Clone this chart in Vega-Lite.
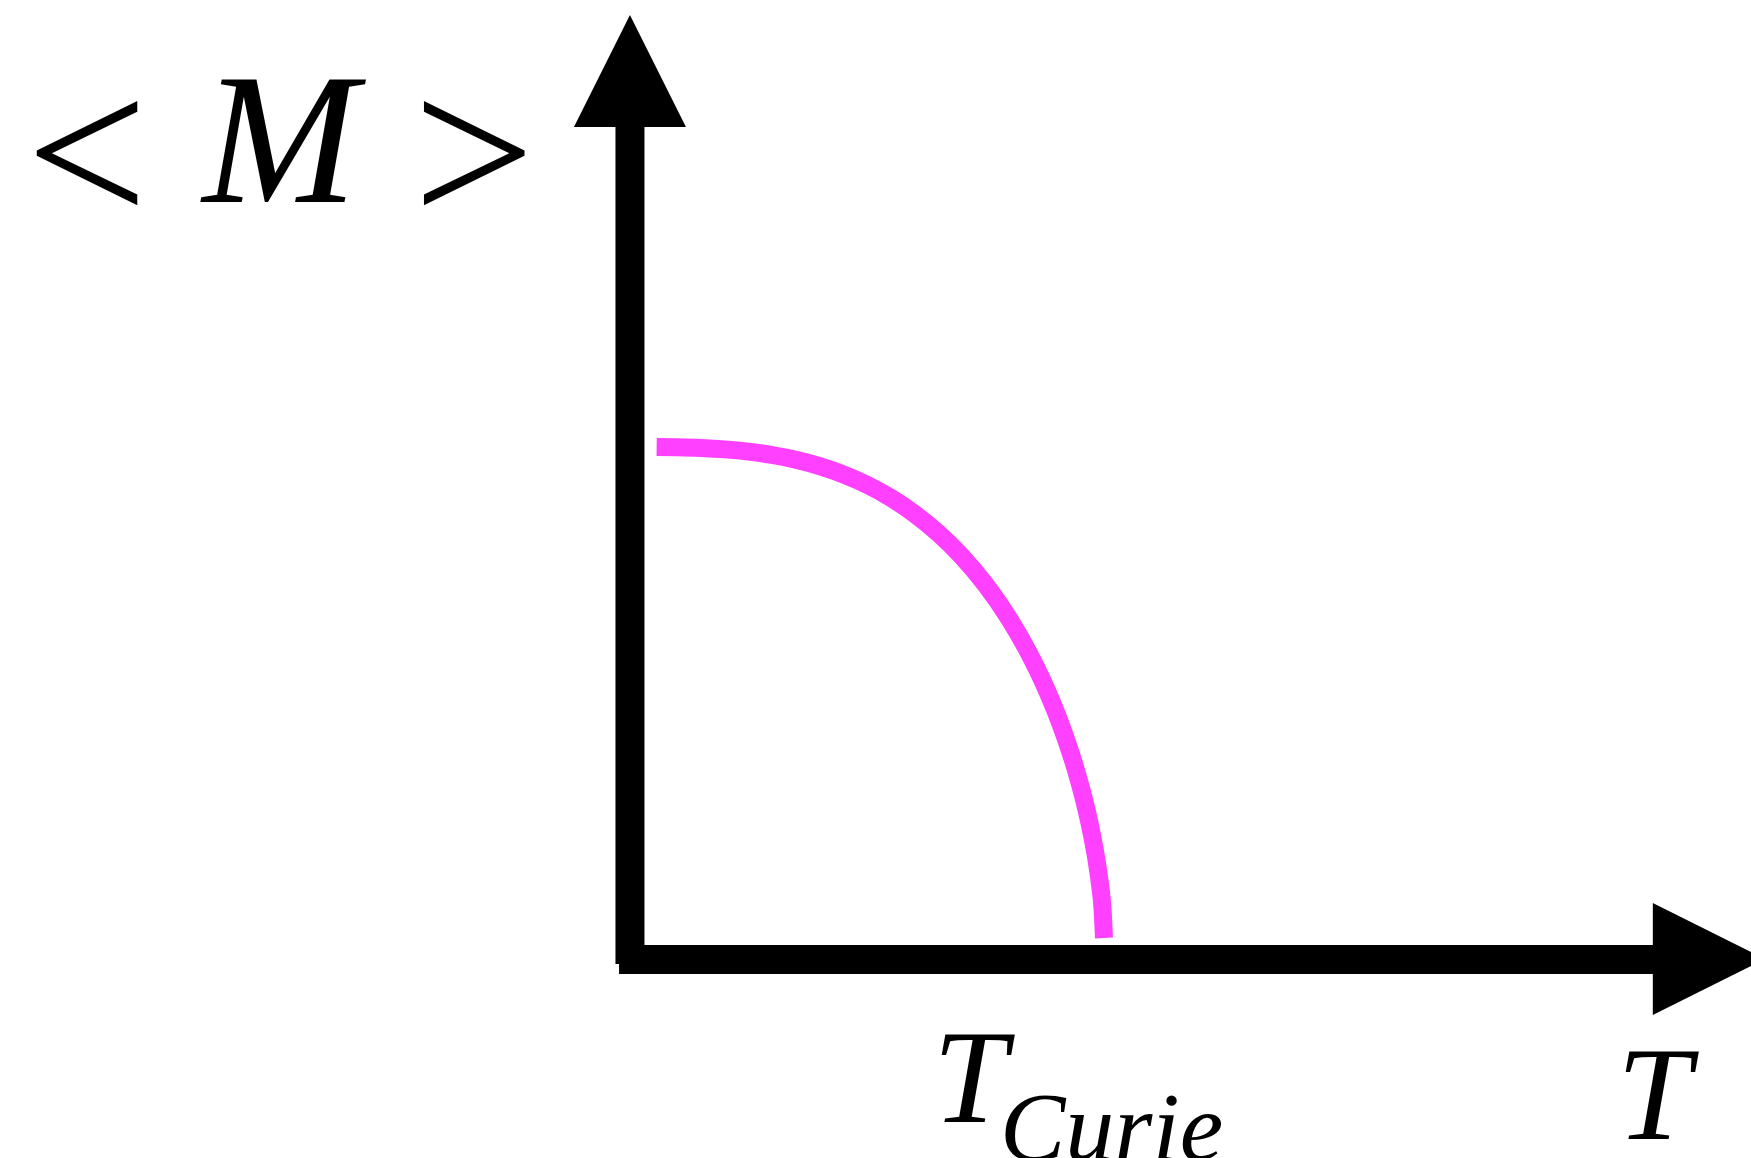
{
  "$schema": "https://vega.github.io/schema/vega-lite/v6.json",
  "width": 1751,
  "height": 1158,
  "padding": 0,
  "autosize": {"type": "none"},
  "background": "white",
  "config": {"view": {"stroke": null}},
  "datasets": {
    "curve": [
      {"T": 0.0563, "M": 0.9999},
      {"T": 0.1, "M": 0.9994},
      {"T": 0.15, "M": 0.99797},
      {"T": 0.2, "M": 0.99519},
      {"T": 0.25, "M": 0.9906},
      {"T": 0.3, "M": 0.98371},
      {"T": 0.35, "M": 0.97405},
      {"T": 0.4, "M": 0.96109},
      {"T": 0.45, "M": 0.94428},
      {"T": 0.5, "M": 0.92301},
      {"T": 0.55, "M": 0.89657},
      {"T": 0.6, "M": 0.86415},
      {"T": 0.65, "M": 0.82478},
      {"T": 0.7, "M": 0.77727},
      {"T": 0.75, "M": 0.71984},
      {"T": 0.8, "M": 0.65023},
      {"T": 0.84, "M": 0.58335},
      {"T": 0.88, "M": 0.50336},
      {"T": 0.91, "M": 0.43154},
      {"T": 0.94, "M": 0.34465},
      {"T": 0.96, "M": 0.27353},
      {"T": 0.975, "M": 0.20822},
      {"T": 0.985, "M": 0.15418},
      {"T": 0.992, "M": 0.10617},
      {"T": 0.997, "M": 0.05914},
      {"T": 1.0, "M": 0.0}
    ],
    "axes": [
      {"axis": "M", "T0": 0, "T1": 0, "M0": -0.053, "M1": 1.686},
      {"axis": "T", "T0": -0.023, "T1": 2.19, "M0": -0.0438, "M1": -0.0438}
    ],
    "headUp": [{"T": 0, "M": 1.7658}],
    "headRight": [{"T": 2.276, "M": -0.0428}],
    "symbols": [
      {"label": "<", "T": -1.1456, "M": 1.4521},
      {"label": ">", "T": -0.3291, "M": 1.4521}
    ],
    "ylabel": [{"label": "M", "T": -0.7384, "M": 1.499}],
    "tlabels": [
      {"label": "T", "T": 0.7173, "M": -0.3747},
      {"label": "T", "T": 2.1603, "M": -0.4094}
    ],
    "sub": [{"label": "Curie", "T": 0.7806, "M": -0.4521}]
  },
  "layer": [
    {
      "data": {"name": "axes"},
      "mark": {"type": "rule", "color": "black", "strokeWidth": 29, "strokeCap": "butt"},
      "encoding": {
        "x": {"field": "T0", "type": "quantitative", "scale": {"domain": [-1.329, 2.365], "nice": false, "zero": false}, "axis": null},
        "x2": {"field": "T1"},
        "y": {"field": "M0", "type": "quantitative", "scale": {"domain": [-0.4481, 1.9104], "nice": false, "zero": false}, "axis": null},
        "y2": {"field": "M1"}
      }
    },
    {
      "data": {"name": "headUp"},
      "mark": {"type": "point", "shape": "M0,-1L1,1L-1,1Z", "filled": true, "color": "black", "opacity": 1, "size": 12544, "strokeWidth": 0},
      "encoding": {
        "x": {"field": "T", "type": "quantitative"},
        "y": {"field": "M", "type": "quantitative"}
      }
    },
    {
      "data": {"name": "headRight"},
      "mark": {"type": "point", "shape": "M-1,-1L1,0L-1,1Z", "filled": true, "color": "black", "opacity": 1, "size": 12544, "strokeWidth": 0},
      "encoding": {
        "x": {"field": "T", "type": "quantitative"},
        "y": {"field": "M", "type": "quantitative"}
      }
    },
    {
      "data": {"name": "curve"},
      "mark": {"type": "line", "color": "#ff40ff", "strokeWidth": 18, "strokeCap": "butt", "interpolate": "monotone"},
      "encoding": {
        "x": {"field": "T", "type": "quantitative"},
        "y": {"field": "M", "type": "quantitative"}
      }
    },
    {
      "data": {"name": "symbols"},
      "mark": {"type": "text", "font": "Liberation Serif", "fontSize": 216, "align": "center", "baseline": "alphabetic", "color": "black"},
      "encoding": {
        "x": {"field": "T", "type": "quantitative"},
        "y": {"field": "M", "type": "quantitative"},
        "text": {"field": "label"}
      }
    },
    {
      "data": {"name": "ylabel"},
      "mark": {"type": "text", "font": "Liberation Serif", "fontStyle": "italic", "fontSize": 186, "align": "center", "baseline": "alphabetic", "color": "black"},
      "encoding": {
        "x": {"field": "T", "type": "quantitative"},
        "y": {"field": "M", "type": "quantitative"},
        "text": {"field": "label"}
      }
    },
    {
      "data": {"name": "tlabels"},
      "mark": {"type": "text", "font": "Liberation Serif", "fontStyle": "italic", "fontSize": 133, "align": "center", "baseline": "alphabetic", "color": "black"},
      "encoding": {
        "x": {"field": "T", "type": "quantitative"},
        "y": {"field": "M", "type": "quantitative"},
        "text": {"field": "label"}
      }
    },
    {
      "data": {"name": "sub"},
      "mark": {"type": "text", "font": "Liberation Serif", "fontStyle": "italic", "fontSize": 98, "align": "left", "baseline": "alphabetic", "color": "black"},
      "encoding": {
        "x": {"field": "T", "type": "quantitative"},
        "y": {"field": "M", "type": "quantitative"},
        "text": {"field": "label"}
      }
    }
  ]
}
